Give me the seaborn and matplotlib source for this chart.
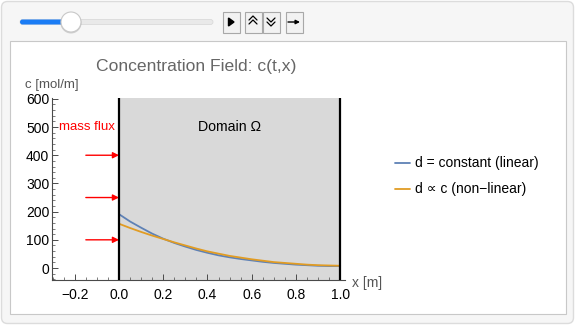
import numpy as np
import pandas as pd
import matplotlib
matplotlib.use("Agg")
import matplotlib.pyplot as plt
from matplotlib.patches import FancyBboxPatch, Rectangle, Circle
import seaborn as sns

# Concentration profiles along the domain
x_pos = [0.00, 0.05, 0.10, 0.15, 0.20, 0.25, 0.30, 0.35, 0.40, 0.45, 0.50,
         0.55, 0.60, 0.65, 0.70, 0.75, 0.80, 0.85, 0.90, 0.95, 1.00]
conc_linear = [191, 165, 143, 122, 104, 89, 76, 64, 54, 45, 38,
               32, 27, 22, 18, 15, 12, 10, 8, 7, 7]
conc_nonlinear = [157, 142, 128, 115, 103, 91, 80, 69, 59, 51, 43,
                  37, 31, 26, 21, 18, 15, 12, 10, 9, 8]
series_names = ["d = constant (linear)", "d \u221d c (non\u2212linear)"]
series_colors = ["#5e81b5", "#e19c24"]

# Inflow arrows at the left boundary
flux_levels = [100, 250, 400]
flux_start = -0.15

x_ticks = [-0.2, 0.0, 0.2, 0.4, 0.6, 0.8, 1.0]
y_ticks = [0, 100, 200, 300, 400, 500, 600]

sns.set_style("ticks")
plt.rcParams["font.family"] = ["Liberation Sans", "DejaVu Sans"]

W, H = 577, 327
fig = plt.figure(figsize=(W / 100, H / 100), dpi=100)
fig.patch.set_facecolor("white")

# ---- control panel frame -------------------------------------------------
bg = fig.add_axes([0, 0, 1, 1], zorder=0)
bg.set_xlim(0, W)
bg.set_ylim(H, 0)
bg.axis("off")

bg.add_patch(FancyBboxPatch((1.5, 1.5), W - 5, H - 5,
                            boxstyle="round,pad=0,rounding_size=6",
                            fc="#f6f6f6", ec="#dcdcdc", lw=1.0))
bg.add_patch(Rectangle((9.5, 40.5), 556, 273, fc="white", ec="#c8c8c8", lw=0.8))

# slider
bg.add_patch(FancyBboxPatch((20, 19.5), 193, 5, boxstyle="round,pad=0,rounding_size=2.5",
                            fc="#e9e9e9", ec="#dadada", lw=0.6))
bg.add_patch(FancyBboxPatch((20, 19.5), 52, 5, boxstyle="round,pad=0,rounding_size=2.5",
                            fc="#1a7cf5", ec="none"))
bg.add_patch(Circle((71, 23), 10.5, fc="#a0a0a0", ec="none", alpha=0.45))
bg.add_patch(Circle((71, 22), 10, fc="white", ec="#c8c8c8", lw=0.8))

# buttons
for bx in (222, 244, 262, 285):
    bg.add_patch(Rectangle((bx + 0.5, 11.5), 17, 21, fc="#f2f2f2", ec="#a8a8a8", lw=0.8))
bg.fill([228.5, 228.5, 234], [18, 26, 22], color="black")
for dy in (0, 4):
    bg.plot([249, 253, 257], [22 + dy - 2, 18 + dy - 2, 22 + dy - 2], color="black", lw=0.9)
    bg.plot([267, 271, 275], [18 + dy, 22 + dy, 18 + dy], color="black", lw=0.9)
bg.annotate("", xy=(300, 22), xytext=(288, 22),
            arrowprops=dict(arrowstyle="-|>", color="black", lw=1.0,
                            mutation_scale=6, shrinkA=0, shrinkB=0))

# ---- plot ----------------------------------------------------------------
ax = fig.add_axes([52 / W, 1 - 280 / H, (345 - 52) / W, (280 - 98) / H],
                  zorder=1)
ax.set_facecolor("none")
ax.set_xlim(-0.303, 1.022)
ax.set_ylim(-42.5, 603)

ax.add_patch(Rectangle((0, -42.5), 1.0, 645.5, fc="#d9d9d9", ec="none", zorder=0))
ax.axvline(0, color="black", lw=1.6, zorder=3)
ax.axvline(1, color="black", lw=1.6, zorder=3)

df = pd.DataFrame({
    "x": x_pos * 2,
    "c": conc_linear + conc_nonlinear,
    "model": [series_names[0]] * len(x_pos) + [series_names[1]] * len(x_pos),
})
sns.lineplot(data=df, x="x", y="c", hue="model", palette=series_colors,
             hue_order=series_names, lw=1.3, ax=ax, zorder=2, legend=False)

for lvl in flux_levels:
    ax.annotate("", xy=(0, lvl), xytext=(flux_start, lvl),
                arrowprops=dict(arrowstyle="-|>", color="red", lw=1.0,
                                mutation_scale=9, shrinkA=0, shrinkB=0),
                zorder=4)
ax.text(-0.147, 500, "mass flux", color="red", fontsize=9.5, ha="center", va="center")
ax.text(0.5, 500, "Domain \u03a9", color="black", fontsize=10.2, ha="center", va="center")

sns.despine(ax=ax)
for s in ("left", "bottom"):
    ax.spines[s].set_color("#4a4a4a")
    ax.spines[s].set_linewidth(0.8)
ax.set_xticks(x_ticks)
ax.set_xticklabels([f"{t:.1f}".replace("-", "\u2212") for t in x_ticks])
ax.set_yticks(y_ticks)
ax.set_xticks(np.arange(-0.3, 1.01, 0.05), minor=True)
ax.set_yticks(np.arange(-40, 601, 20), minor=True)
ax.tick_params(which="major", direction="in", length=4, width=0.7, color="#4a4a4a",
               labelsize=10, labelcolor="black")
ax.tick_params(axis="x", which="major", pad=6)
ax.tick_params(axis="y", which="major", pad=2)
ax.tick_params(which="minor", direction="in", length=2, width=0.5, color="#4a4a4a")
ax.set_xlabel("")
ax.set_ylabel("")

fig.text(196 / W, 1 - 67 / H, "Concentration Field: c(t,x)", color="#666666",
         fontsize=12.6, ha="center", va="center")
fig.text(25 / W, 1 - 85 / H, "c [mol/m]", color="#555555", fontsize=9.5,
         ha="left", va="center")
fig.text(352 / W, 1 - 283 / H, "x [m]", color="#555555", fontsize=10,
         ha="left", va="center")

# legend
for name, col, ly in zip(series_names, series_colors, (163, 189)):
    bg.plot([395, 410], [ly, ly], color=col, lw=1.3)
    bg.text(415, ly, name, fontsize=10, ha="left", va="center", color="black")

fig.savefig("out.png", dpi=100)
